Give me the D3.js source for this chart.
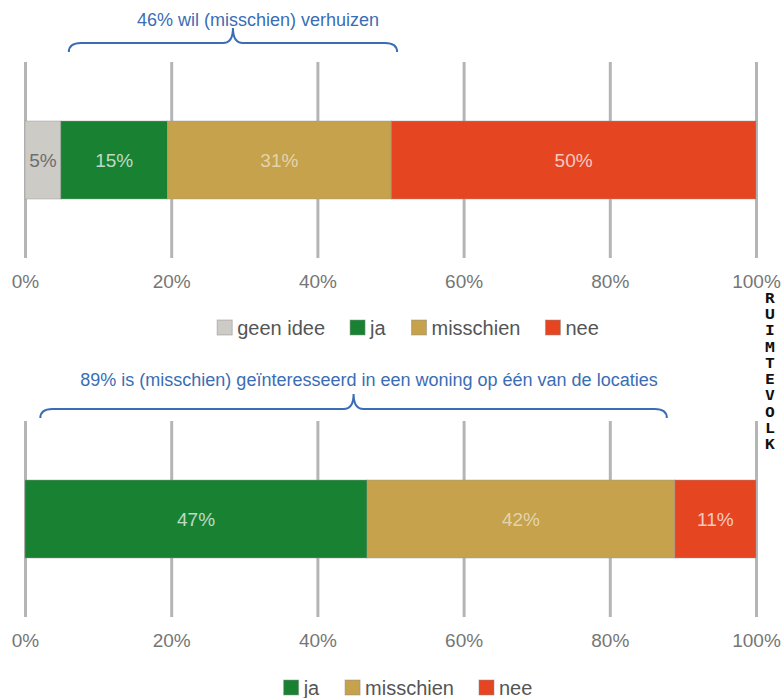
<!DOCTYPE html>
<html>
<head>
<meta charset="utf-8">
<script src="https://cdn.jsdelivr.net/npm/d3@7"></script>
<style>
  html, body { margin: 0; padding: 0; background: #fff; }
  svg { display: block; font-family: "Liberation Sans", Arial, sans-serif; }
</style>
</head>
<body>
<svg id="chart" width="783" height="698"></svg>
<script>
// ---- data ----
const categories1 = ["geen idee", "ja", "misschien", "nee"];
const values1 = [4.9, 14.6, 30.6, 49.9];
const categories2 = ["ja", "misschien", "nee"];
const values2 = [46.8, 42.1, 11.1];
const tickValues = [0, 20, 40, 60, 80, 100];
const tickLabels = ["0%", "20%", "40%", "60%", "80%", "100%"];
const annotation1 = "46% wil (misschien) verhuizen";
const annotation2 = "89% is (misschien) geïnteresseerd in een woning op één van de locaties";
const braceSpan1 = [6.0, 50.9];
const braceSpan2 = [2.1, 87.8];
const logoText = "RUIMTEVOLK";

// ---- styles ----
const colors = { "geen idee": "#cdcbc6", "ja": "#198232", "misschien": "#c5a24b", "nee": "#e64522" };
const labelColors = { "geen idee": "#6e6e6e", "ja": "rgba(255,255,255,0.72)", "misschien": "rgba(255,255,255,0.55)", "nee": "rgba(255,255,255,0.72)" };
const annColor = "#3a6db5";

const svg = d3.select("#chart");
const x = d3.scaleLinear().domain([0, 100]).range([25, 756]);

function brace(x0, x1, y, tipY) {
  const xm = (x0 + x1) / 2;
  return `M${x0},${y + 9} Q${x0},${y} ${x0 + 12},${y} L${xm - 10},${y} Q${xm},${y} ${xm},${tipY}` +
         ` Q${xm},${y} ${xm + 10},${y} L${x1 - 12},${y} Q${x1},${y} ${x1},${y + 9}`;
}

function panel(cfg) {
  const g = svg.append("g");
  // annotation
  g.append("text")
    .attr("x", cfg.annX).attr("y", cfg.annY)
    .attr("text-anchor", "middle")
    .attr("fill", annColor)
    .style("font-size", "18px")
    .text(cfg.annotation);
  g.append("path")
    .attr("d", brace(x(cfg.brace[0]), x(cfg.brace[1]), cfg.braceY, cfg.braceY - 15))
    .attr("fill", "none")
    .attr("stroke", annColor)
    .attr("stroke-width", 2);

  // grid + axis
  const axis = d3.axisBottom(x)
    .tickValues(tickValues)
    .tickFormat((d, i) => tickLabels[i])
    .tickSize(-(cfg.gridBottom - cfg.gridTop))
    .tickPadding(18);
  const ax = g.append("g")
    .attr("transform", `translate(0,${cfg.gridBottom})`)
    .call(axis);
  ax.select(".domain").remove();
  ax.selectAll(".tick line").attr("stroke", "#b5b5b5").attr("stroke-width", 3);
  ax.selectAll(".tick text")
    .attr("fill", "#767676")
    .style("font-size", "19px")
    .style("font-family", "\"Liberation Sans\", Arial, sans-serif")
    .attr("dy", null)
    .attr("y", cfg.tickBaseline - cfg.gridBottom);

  // stacked bar
  let cum = 0;
  const segs = cfg.categories.map((c, i) => {
    const s = { cat: c, v: cfg.values[i], x0: cum, x1: cum + cfg.values[i] };
    cum += cfg.values[i];
    return s;
  });
  g.selectAll("rect.seg").data(segs).join("rect")
    .attr("class", "seg")
    .attr("x", d => x(d.x0))
    .attr("width", d => x(d.x1) - x(d.x0))
    .attr("y", cfg.barTop)
    .attr("height", cfg.barH)
    .attr("fill", d => colors[d.cat])
    .attr("stroke", "rgba(150,150,150,0.45)")
    .attr("stroke-width", 1);
  g.selectAll("text.lbl").data(segs).join("text")
    .attr("class", "lbl")
    .attr("x", d => (x(d.x0) + x(d.x1)) / 2)
    .attr("y", cfg.barTop + cfg.barH / 2 + 7)
    .attr("text-anchor", "middle")
    .attr("fill", d => labelColors[d.cat])
    .style("font-size", "19px")
    .text(d => Math.round(d.v) + "%");

  // legend
  const lg = g.append("g");
  const items = lg.selectAll("g").data(cfg.categories).join("g");
  items.append("rect")
    .attr("width", 15).attr("height", 15)
    .attr("y", cfg.legendY - 8)
    .attr("fill", d => colors[d])
    .attr("stroke", "rgba(140,140,140,0.5)")
    .attr("stroke-width", 1);
  items.append("text")
    .attr("x", 20).attr("y", cfg.legendY + 7)
    .attr("fill", "#555")
    .style("font-size", "20px")
    .text(d => d);
  const widths = [];
  items.each(function () { widths.push(this.getBBox().width); });
  const total = d3.sum(widths) + 25 * (widths.length - 1);
  let start = 408 - total / 2;
  items.attr("transform", (d, i) => {
    const t = `translate(${start},0)`;
    start += widths[i] + 25;
    return t;
  });
}

panel({
  categories: categories1, values: values1, annotation: annotation1, brace: braceSpan1,
  annX: 258, annY: 26, braceY: 43,
  gridTop: 62, gridBottom: 258, tickBaseline: 288,
  barTop: 121, barH: 78, legendY: 328
});
panel({
  categories: categories2, values: values2, annotation: annotation2, brace: braceSpan2,
  annX: 369, annY: 386, braceY: 409,
  gridTop: 421, gridBottom: 617, tickBaseline: 647,
  barTop: 480, barH: 78, legendY: 688
});

// vertical logo text (single text element, upright vertical writing)
svg.append("text")
  .attr("x", 0)
  .attr("y", 0)
  .attr("transform", "translate(770,290) scale(1.2,1)")
  .attr("fill", "#111")
  .style("font-family", "\"DejaVu Sans Mono\", monospace")
  .style("font-size", "13.6px")
  .style("font-weight", "bold")
  .style("writing-mode", "vertical-rl")
  .style("text-orientation", "upright")
  .text(logoText);
</script>
</body>
</html>
